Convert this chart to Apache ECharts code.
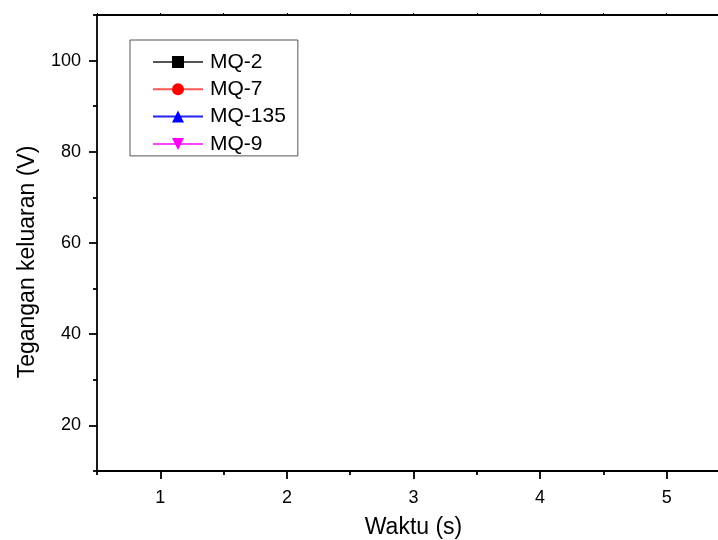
<!DOCTYPE html>
<html>
<head>
<meta charset="utf-8">
<script src="https://cdn.jsdelivr.net/npm/echarts@6/dist/echarts.min.js"></script>
<style>
html,body{margin:0;padding:0;background:#fff;}
#chart{width:718px;height:540px;}
</style>
</head>
<body>
<div id="chart"></div>
<script>
// Series names (legend) and data (plot area is empty in the reference)
var seriesNames = ['MQ-2', 'MQ-7', 'MQ-135', 'MQ-9'];
var dataMQ2 = [];
var dataMQ7 = [];
var dataMQ135 = [];
var dataMQ9 = [];

// Axis ranges and tick values
var xRange = [0.5, 5.5];
var xMajorTicks = [1, 2, 3, 4, 5];
var xMinorTicks = [0.5, 1.5, 2.5, 3.5, 4.5, 5.5];
var yRange = [10, 110];
var yMajorTicks = [20, 40, 60, 80, 100];
var yMinorTicks = [10, 30, 50, 70, 90, 110];

var FONT = 'Liberation Sans, Arial, sans-serif';
var chart = echarts.init(document.getElementById('chart'));

var markerColors = ['#000000', '#ff0000', '#0000ff', '#ff00ff'];
var lineColors = ['#555555', '#ff5555', '#2222ee', '#ff44ff'];
var symbols = ['rect', 'circle', 'triangle', 'path://M0,0 L10,0 L5,9 Z'];
var dataSets = [dataMQ2, dataMQ7, dataMQ135, dataMQ9];

var axisLine = {show: true, lineStyle: {color: '#000', width: 1.8}};

chart.setOption({
  animation: false,
  backgroundColor: '#fff',
  grid: {left: 97, top: 15, right: -12, bottom: 69, containLabel: false, outerBoundsMode: 'none'},
  legend: {
    orient: 'vertical',
    left: 130,
    top: 40,
    padding: [11, 12, 1, 22],
    itemGap: 5.3,
    itemWidth: 50,
    itemHeight: 15,
    borderColor: '#555',
    borderWidth: 1,
    textStyle: {fontFamily: FONT, fontSize: 21, color: '#000', padding: [0, 0, 0, 2], lineHeight: 22},
    data: seriesNames
  },
  xAxis: [
    {
      type: 'value', position: 'bottom', min: xRange[0], max: xRange[1], interval: 0.5,
      axisLine: axisLine,
      axisTick: {show: true, length: 8, customValues: xMajorTicks, lineStyle: {color: '#000', width: 1.8}},
      axisLabel: {show: true, customValues: xMajorTicks, margin: 18, fontFamily: FONT, fontSize: 18, color: '#000'},
      splitLine: {show: false},
      name: 'Waktu (s)', nameLocation: 'middle', nameGap: 45,
      nameTextStyle: {fontFamily: FONT, fontSize: 23, color: '#000'}
    },
    {
      type: 'value', position: 'bottom', min: xRange[0], max: xRange[1], interval: 0.5,
      axisLine: {show: false},
      axisTick: {show: true, length: 4, customValues: xMinorTicks, lineStyle: {color: '#000', width: 1.8}},
      axisLabel: {show: false},
      splitLine: {show: false}
    },
    {
      type: 'value', position: 'top', min: xRange[0], max: xRange[1], interval: 0.5,
      axisLine: axisLine,
      axisTick: {show: true, length: 2, lineStyle: {color: '#000', width: 1}},
      axisLabel: {show: false},
      splitLine: {show: false}
    }
  ],
  yAxis: [
    {
      type: 'value', position: 'left', min: yRange[0], max: yRange[1], interval: 10,
      axisLine: axisLine,
      axisTick: {show: true, length: 8, customValues: yMajorTicks, lineStyle: {color: '#000', width: 1.8}},
      axisLabel: {show: true, customValues: yMajorTicks, margin: 16, fontFamily: FONT, fontSize: 18, color: '#000'},
      splitLine: {show: false},
      name: 'Tegangan keluaran (V)', nameLocation: 'middle', nameGap: 58, nameRotate: 90,
      nameTextStyle: {fontFamily: FONT, fontSize: 23, color: '#000', padding: [0, 38, 0, 0]}
    },
    {
      type: 'value', position: 'left', min: yRange[0], max: yRange[1], interval: 10,
      axisLine: {show: false},
      axisTick: {show: true, length: 4, customValues: yMinorTicks, lineStyle: {color: '#000', width: 1.8}},
      axisLabel: {show: false},
      splitLine: {show: false}
    }
  ],
  series: seriesNames.map(function (n, i) {
    return {
      name: n, type: 'line', xAxisIndex: 0, yAxisIndex: 0,
      data: dataSets[i],
      symbol: symbols[i], symbolSize: 12,
      itemStyle: {color: markerColors[i]},
      lineStyle: {color: lineColors[i], width: 1}
    };
  })
});
</script>
</body>
</html>
